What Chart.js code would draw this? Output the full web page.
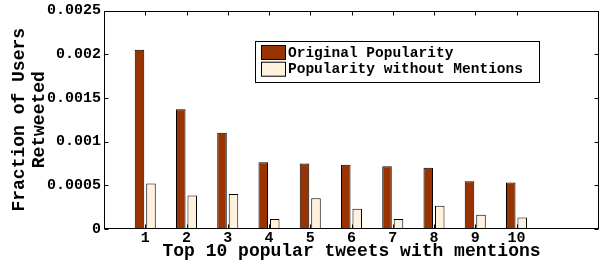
<!DOCTYPE html>
<html>
<head>
<meta charset="utf-8">
<script src="https://cdn.jsdelivr.net/npm/chart.js@4/dist/chart.umd.min.js"></script>
<style>
  html, body { margin: 0; padding: 0; background: #fff; }
  #wrap { width: 604px; height: 264px; position: relative; }
</style>
</head>
<body>
<div id="wrap"><canvas id="c" width="604" height="264"></canvas></div>
<script>
// ---- data ----
const categories = ['1', '2', '3', '4', '5', '6', '7', '8', '9', '10'];
const originalPopularity = [0.00205, 0.00137, 0.00110, 0.000765, 0.00075, 0.000735, 0.000717, 0.000702, 0.000547, 0.000533];
const popularityWithoutMentions = [0.00052, 0.000382, 0.000400, 0.000115, 0.000352, 0.000231, 0.000115, 0.000265, 0.000164, 0.000133];
const yTickLabels = ['0', '0.0005', '0.001', '0.0015', '0.002', '0.0025'];
const seriesNames = ['Original Popularity', 'Popularity without Mentions'];

// axis runs from slot 0 to slot 12; categories occupy slots 1..10
const labels = [''].concat(categories, ['', '']);
const pad = arr => [null].concat(arr, [null, null]);

const FONT = "'Liberation Mono', 'Courier New', monospace";

const framePlugin = {
  id: 'frame',
  afterDatasetsDraw(chart) {
    const ctx = chart.ctx;
    const a = chart.chartArea;
    const xs = chart.scales.x, ys = chart.scales.y;
    const L = Math.round(a.left) + 0.5, R = Math.round(a.right) - 0.5;
    const T = Math.round(a.top) + 0.5, B = Math.round(a.bottom) - 0.5;
    ctx.save();
    ctx.strokeStyle = '#000';
    ctx.lineWidth = 1;
    const tl = 4;
    ctx.beginPath();
    // x ticks (inward, top and bottom) at category slots
    for (let i = 1; i <= categories.length; i++) {
      const x = Math.round(xs.getPixelForValue(i)) + 0.5;
      ctx.moveTo(x, T); ctx.lineTo(x, T + tl);
      ctx.moveTo(x, B); ctx.lineTo(x, B - tl);
    }
    // y ticks (inward, left and right)
    ys.ticks.forEach(t => {
      const y = Math.round(ys.getPixelForValue(t.value)) + 0.5;
      ctx.moveTo(L, y); ctx.lineTo(L + tl, y);
      ctx.moveTo(R, y); ctx.lineTo(R - tl, y);
    });
    ctx.stroke();
    ctx.strokeRect(L, T, R - L, B - T);

    // legend box
    const lx = 255, ly = 41, lw = 284, lh = 41;
    ctx.fillStyle = '#fff';
    ctx.fillRect(lx, ly, lw, lh);
    ctx.strokeRect(lx + 0.5, ly + 0.5, lw, lh);
    ctx.font = "bold 14.5px " + FONT;
    ctx.textBaseline = 'middle';
    ctx.textAlign = 'left';
    chart.data.datasets.forEach((ds, i) => {
      const sy = 45 + i * 16.7;
      ctx.fillStyle = ds.backgroundColor;
      ctx.fillRect(261, sy, 25, 15);
      ctx.strokeRect(261.5, sy + 0.5, 24, 14);
      ctx.fillStyle = '#000';
      ctx.fillText(ds.label, 288, sy + 8);
    });
    ctx.restore();
  }
};

new Chart(document.getElementById('c'), {
  type: 'bar',
  data: {
    labels: labels,
    datasets: [
      {
        label: seriesNames[0],
        data: pad(originalPopularity),
        backgroundColor: '#993300',
        borderColor: '#000',
        borderWidth: 1,
        categoryPercentage: 0.557,
        barPercentage: 0.83
      },
      {
        label: seriesNames[1],
        data: pad(popularityWithoutMentions),
        backgroundColor: '#FFF1DC',
        borderColor: '#000',
        borderWidth: 1,
        categoryPercentage: 0.557,
        barPercentage: 0.83
      }
    ]
  },
  options: {
    responsive: false,
    animation: false,
    layout: { padding: { top: 8, right: 5, left: 0, bottom: 0 } },
    plugins: {
      legend: { display: false },
      tooltip: { enabled: false }
    },
    scales: {
      x: {
        type: 'category',
        offset: false,
        grid: { display: false, drawTicks: false },
        border: { display: false },
        ticks: {
          autoSkip: false,
          maxRotation: 0,
          padding: 2,
          color: '#000',
          font: { family: FONT, weight: 'bold', size: 15, lineHeight: 1 }
        },
        title: {
          display: true,
          text: 'Top 10 popular tweets with mentions',
          color: '#000',
          font: { family: FONT, weight: 'bold', size: 18, lineHeight: 1 },
          padding: { top: 0, bottom: 4 }
        },
        afterFit(s) { s.height = 35; }
      },
      y: {
        min: 0,
        max: 0.0025,
        grid: { display: false, drawTicks: false },
        border: { display: false },
        ticks: {
          stepSize: 0.0005,
          padding: 3,
          color: '#000',
          font: { family: FONT, weight: 'bold', size: 15, lineHeight: 1 },
          callback: (v, i) => yTickLabels[i]
        },
        title: {
          display: true,
          text: ['Fraction of Users', 'Retweeted'],
          color: '#000',
          font: { family: FONT, weight: 'bold', size: 18, lineHeight: 1.1 },
          padding: { top: 10, bottom: 0 }
        },
        afterFit(s) { s.width = 104; }
      }
    }
  },
  plugins: [framePlugin]
});
</script>
</body>
</html>
